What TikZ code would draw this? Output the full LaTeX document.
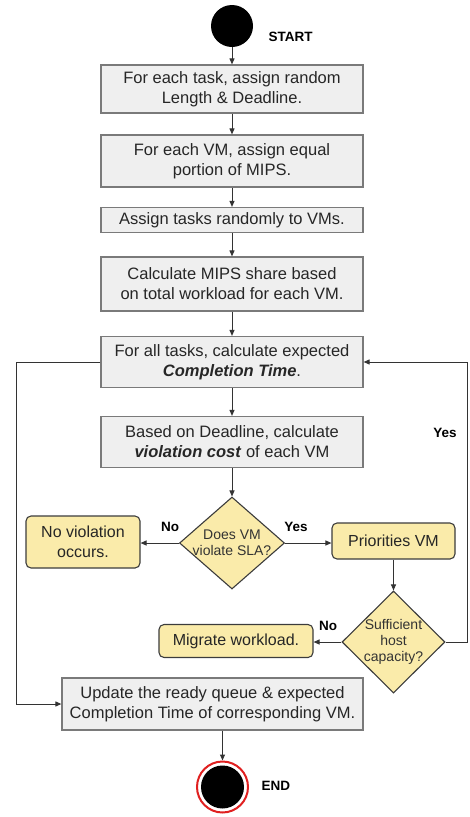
\documentclass[tikz,border=0pt]{standalone}
\usepackage{fontspec}
\setmainfont{Liberation Sans}
\usetikzlibrary{shapes.geometric,arrows.meta}
\definecolor{boxgray}{HTML}{EFEFEF}
\definecolor{boxedge}{HTML}{7A7A7A}
\definecolor{ylw}{HTML}{FAEBAA}
\definecolor{ylwedge}{HTML}{3C3C3C}
\definecolor{lineclr}{HTML}{333333}
\definecolor{endred}{HTML}{E02020}
\begin{document}
\begin{tikzpicture}[x=1pt,y=-1pt,
 procbox/.style={draw=boxedge, fill=boxgray, line width=1.2pt, minimum width=262pt, align=center, font=\fontsize{16.5}{20}\selectfont, inner sep=2pt, text=black!85},
 ybox/.style={draw=ylwedge, fill=ylw, line width=1.1pt, rounded corners=5pt, align=center, font=\fontsize{16}{20}\selectfont, inner sep=2pt, text=black!85},
 dshape/.style={diamond, draw=ylwedge, fill=ylw, line width=1.1pt, inner sep=0pt},
 dtext/.style={align=center, font=\fontsize{14}{16}\selectfont, text=black!80},
 lbl/.style={font=\bfseries\fontsize{13.5}{16}\selectfont},
 conn/.style={draw=lineclr, line width=1pt, -{Triangle[length=6pt,width=5pt]}},
]
\useasboundingbox (0,0) rectangle (469,817);
% start
\node[circle, fill=black, minimum size=42pt, inner sep=0pt] (start) at (232,26) {};
\node[lbl, anchor=west] (startl) at (265,37) {START};
% process boxes
\node[procbox, minimum height=48pt] (b1) at (232,89) {For each task, assign random\\Length \& Deadline.};
\node[procbox, minimum height=52pt] (b2) at (232,161) {For each VM, assign equal\\portion of MIPS.};
\node[procbox, minimum height=25pt] (b3) at (232,220) {Assign tasks randomly to VMs.};
\node[procbox, minimum height=54pt] (b4) at (232,284) {Calculate MIPS share based\\on total workload for each VM.};
\node[procbox, minimum height=51pt] (b5) at (232,362) {For all tasks, calculate expected\\\textbf{\textit{Completion Time}}.};
\node[procbox, minimum height=51pt] (b6) at (232,442) {Based on Deadline, calculate\\\textbf{\textit{violation cost}} of each VM};
% decision 1
\node[dshape, minimum width=105pt, minimum height=92pt] (d1) at (232,543) {};
\node[dtext] (d1t) at (d1.center) {Does VM\\violate SLA?};
\node[ybox, minimum width=114pt, minimum height=52pt] (noviol) at (83,542) {No violation\\occurs.};
\node[ybox, minimum width=123pt, minimum height=36pt] (prio) at (393.5,541) {Priorities VM};
% decision 2
\node[dshape, minimum width=103pt, minimum height=102pt] (d2) at (393.5,642) {};
\node[dtext] (d2t) at (d2.center) {Sufficient\\host\\capacity?};
\node[ybox, minimum width=154pt, minimum height=33pt] (migr) at (236,641) {Migrate workload.};
% update
\node[procbox, minimum width=301pt, minimum height=52pt] (upd) at (212.5,704) {Update the ready queue \& expected\\Completion Time of corresponding VM.};
% end
\node[circle, draw=endred, line width=2pt, fill=white, minimum size=51pt, inner sep=0pt] (endring) at (222.5,787) {};
\node[circle, fill=black, minimum size=43pt, inner sep=0pt] (end) at (222.5,787) {};
\node[lbl, anchor=west] (endl) at (258,786) {END};
% labels
\node[lbl] (no1) at (170,527) {No};
\node[lbl] (yes1) at (296,527) {Yes};
\node[lbl] (no2) at (328,626) {No};
\node[lbl] (yes2) at (445,433) {Yes};
% connectors
\draw[conn] (start) -- (b1);
\draw[conn] (b1) -- (b2);
\draw[conn] (b2) -- (b3);
\draw[conn] (b3) -- (b4);
\draw[conn] (b4) -- (b5);
\draw[conn] (b5) -- (b6);
\draw[conn] (b6) -- (d1);
\draw[conn] (d1.west) -- (d1.west -| noviol.east);
\draw[conn] (d1.east) -- (d1.east -| prio.west);
\draw[conn] (prio) -- (d2);
\draw[conn] (d2.west) -- (d2.west -| migr.east);
\coordinate (lx) at (16,0);
\coordinate (rx) at (467,0);
\draw[conn] (b5.west) -- (b5.west -| lx) |- (upd.west);
\draw[conn] (d2.east) -- (d2.east -| rx) |- (b5.east);
\draw[conn] (endring.north |- upd.south) -- (endring.north);
\end{tikzpicture}
\end{document}
